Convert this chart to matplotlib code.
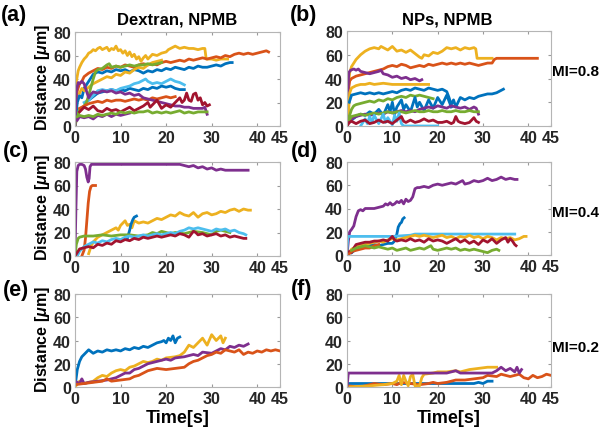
import matplotlib.pyplot as plt

plt.rcParams['font.family'] = ['Liberation Sans', 'DejaVu Sans']
plt.rcParams['font.weight'] = 'bold'
plt.rcParams['mathtext.fontset'] = 'custom'
plt.rcParams['mathtext.it'] = 'Liberation Sans:italic:bold'
plt.rcParams['mathtext.rm'] = 'Liberation Sans:bold'

# MATLAB default colour order
blue = '#0072BD'
orange = '#D95319'
yellow = '#EDB120'
purple = '#7E2F8E'
green = '#77AC30'
cyan = '#4DBEEE'
red = '#A2142F'

xticks = [0, 10, 20, 30, 40, 45]
yticks = [0, 20, 40, 60, 80]
titles = ['Dextran, NPMB', 'NPs, NPMB']
mi_labels = ['MI=0.8', 'MI=0.4', 'MI=0.2']
panel_labels = ['(a)', '(b)', '(c)', '(d)', '(e)', '(f)']

# each track: list of (time [s], distance [um])
# ---- (a) Dextran, MI=0.8 ----
a_yellow1 = [(0,0),(0.3,38),(0.7,47),(1,50),(1.5,54),(2,57),(2.5,59),(3,62),(3.5,63),(4,65),(4.5,64),(5,66),
             (5.5,67),(6,65),(6.5,66),(7,67),(7.5,64),(8,66),(8.5,65),(9,68),(9.5,64),(10,65),(10.5,62),(11,64),
             (11.5,60),(12,63),(12.5,59),(13,61),(13.5,57),(14,59),(14.5,55),(15,58),(15.5,60),(16,57),(17,61),
             (18,60),(19,62),(20,63),(20.5,65),(21,66),(22,68),(23,66),(24,67),(25,66),(26,66),(27,65),(28,66),
             (28.5,66),(28.8,57),(30,57),(31,56),(32,57),(33.5,57)]
a_yellow2 = [(1,28),(1.5,32),(2,30),(3,33),(4,36),(5,38),(6,40),(7,42),(8,41),(9,44),(10,43),(11,46),(12,45),
             (13,48),(14,50),(15,49),(16,52),(17,54),(18,55),(19,56)]
a_orange1 = [(0,0),(0.5,30),(1,36),(1.5,38),(2,42),(3,45),(4,47),(5,49),(6,48),(7,50),(8,49),(9,51),(10,50),
             (11,52),(12,51),(13,50),(14,52),(15,53),(16,52),(17,53),(18,52),(19,54),(20,55),(21,54),(22,55),
             (23,56),(24,55),(25,57),(26,56),(27,57),(28,58),(29,57),(30,58),(31,59),(32,58),(33,60),(34,59),
             (35,61),(36,62),(37,61),(38,62),(39,61),(40,62),(41,63),(42,64),(42.5,63)]
a_blue1 = [(0,0),(0.5,20),(1,26),(1.5,24),(2,32),(3,38),(4,44),(5,46),(6,45),(7,47),(8,46),(9,48),(10,47),
           (11,48),(12,46),(13,48),(14,47),(15,45),(16,47),(17,46),(18,48),(19,47),(20,49),(21,48),(22,50),
           (23,49),(24,48),(25,50),(26,49),(27,51),(28,50),(29,50),(30,51),(31,52),(32,51),(33,53),(34,54),(34.5,54)]
a_blue2 = [(3,22),(4,25),(5,28),(6,29),(7,30),(8,31),(9,30),(10,31),(11,30),(12,32),(13,31),(14,30),(15,32),
           (16,31),(17,33),(18,32),(19,34),(20,33),(21,34),(22,32),(23,31),(24,31)]
a_cyan = [(2,20),(3,22),(4,26),(5,30),(6,31),(7,30),(8,31),(9,30),(10,32),(11,33),(12,34),(13,36),(14,37),
          (15,39),(15.5,40),(16,38),(17,36),(18,37),(19,36),(20,38),(21,40),(22,38),(23,37),(24,35)]
a_green1 = [(0,0),(0.5,8),(1,14),(2,17),(2.5,20),(3,26),(3.5,33),(4,40),(4.5,46),(5,48),(6,49),(7,52),(7.5,53),
            (8,50),(9,51),(10,50),(11,51),(12,52),(13,51),(14,52),(15,52),(16,53),(17,52),(18,53),(19,54)]
a_green2 = [(0.5,8),(1,9),(2,8),(3,9),(4,8),(5,10),(6,9),(7,10),(8,11),(9,10),(10,12),(11,11),(12,12),(13,11),
            (14,12),(15,12),(16,13),(17,11),(18,12),(19,11),(20,12),(21,11),(22,12),(23,13),(24,11),(25,12),
            (26,11),(27,12),(28,12),(29,12)]
a_purple1 = [(0,0),(0.3,30),(0.7,37),(1,36),(1.5,38),(2,36),(2.5,30),(3,24),(3.5,27),(4,29),(5,28),(6,30),
             (7,29),(8,30),(9,28),(10,29),(11,27),(12,28),(13,26),(14,27),(15,24),(16,23),(17,22),(18,21),
             (19,20),(20,19),(21,18),(22,17),(23,17),(24,16),(25,16),(26,15),(27,15),(28,15),(28.5,16),(29,10)]
a_purple2 = [(0.5,5),(1,8),(2,7),(3,8),(4,6),(5,9),(6,8),(7,10),(8,8),(9,10),(10,9),(11,10),(12,11)]
a_orange2 = [(1,15),(2,17),(3,19),(4,20),(5,21),(6,20),(7,22),(8,21),(9,22),(10,22),(11,21),(12,22),(13,23),
             (14,22),(15,23),(16,22),(17,24),(18,23),(19,24),(20,25),(21,24),(22,25)]
a_red = [(1,12),(2,16),(3,14),(4,17),(5,13),(6,12),(7,15),(8,13),(9,14),(10,12),(11,14),(12,16),(13,13),
         (14,15),(15,17),(16,20),(16.5,16),(17,18),(18,22),(19,15),(20,18),(21,16),(22,20),(23,24),(23.5,20),
         (24,22),(24.5,28),(25,22),(25.5,21),(26,27),(26.5,28),(27,22),(27.5,24),(28,18),(28.5,20),(29,17),(29.5,18)]

# ---- (b) NPs, MI=0.8 ----
b_yellow1 = [(0,0),(0.3,35),(0.6,45),(1,50),(1.5,53),(2,56),(3,60),(4,63),(5,65),(6,66),(7,65),(7.5,67),
             (8,66),(9,64),(10,67),(10.5,65),(11,63),(12,64),(13,62),(14,64),(15,61),(16,58),(16.5,57),(17,60),
             (18,59),(19,62),(20,61),(21,63),(22,66),(23,65),(24,66),(25,64),(26,66),(27,65),(28,66),(28.4,65),
             (28.7,57),(30,57),(32,57)]
b_orange1 = [(0,0),(0.3,30),(0.6,38),(1,40),(2,42),(3,43),(4,44),(5,45),(6,46),(7,47),(8,48),(9,50),(10,51),
             (11,50),(12,52),(13,51),(14,49),(15,50),(16,51),(17,50),(18,52),(19,51),(20,52),(21,53),(22,52),
             (23,53),(24,52),(25,53),(26,52),(27,53),(28,52),(29,51),(30,52),(31,53),(32,53),(32.5,56),(33,57),
             (35,57),(38,57),(42,57)]
b_purple1 = [(0,0),(0.2,30),(0.4,45),(0.8,47),(1.5,48),(2,47),(2.5,48),(3,46),(4,45),(5,44),(6,45),(7,46),
             (7.5,47),(8,44),(9,43),(10,41),(11,42),(12,40),(13,41),(14,39),(15,40),(16,38),(16.5,39)]
b_yellow2 = [(0.3,10),(0.6,28),(1,32),(2,34),(3,35),(4,35),(5,36),(6,35),(8,36),(10,35),(12,35),(14,35),
             (16,35),(18,35)]
b_blue1 = [(0.5,20),(1,26),(2,27),(3,28),(4,27),(5,28),(6,27),(7,28),(8,27),(9,28),(10,29),(11,28),(12,30),
           (13,31),(14,30),(15,32),(16,31),(17,30),(18,32),(19,31),(20,30),(21,31),(22,29),(22.5,24),(23,18),
           (23.5,22),(24,16),(24.5,20),(25,24),(26,22),(27,24),(28,23),(29,25),(30,26),(31,27),(32,27),(33,28),
           (34,30),(34.5,31)]
b_blue2 = [(1,5),(2,8),(3,10),(4,9),(5,12),(6,10),(7,14),(8,9),(9,18),(9.5,12),(10,20),(10.5,10),(11,16),
           (12,22),(12.5,14),(13,18),(14,12),(15,24),(15.5,16),(16,20),(17,13),(18,22),(19,15),(20,24),(21,18),
           (22,26),(23,16)]
b_green1 = [(0,0),(0.5,8),(1,14),(1.5,17),(2,18),(3,19),(4,20),(5,21),(6,20),(7,22),(8,21),(9,23),(10,22),
            (11,24),(12,25),(13,24),(14,26),(15,25),(16,26),(17,25),(18,24),(19,23)]
b_green2 = [(0.5,5),(1,8),(2,9),(3,10),(4,9),(5,10),(6,11),(7,10),(8,11),(9,12),(10,11),(11,12),(12,12),
            (13,11),(14,12),(15,13),(16,12),(17,12),(18,13),(19,12),(20,12),(21,13),(22,12),(23,12),(24,13),
            (25,12),(26,12),(27,13),(28,12),(29,12)]
b_purple2 = [(0.5,3),(1,6),(2,8),(3,9),(4,10),(5,9),(6,10),(7,11),(8,10),(9,12),(10,11),(11,12),(12,13),
             (13,12),(14,13),(15,12),(16,14),(17,15),(18,16),(19,15),(20,17),(21,16),(22,15),(23,17),(24,16),
             (25,15),(26,16),(27,14),(28,16),(28.5,15),(29,10)]
b_red = [(0,0),(0.5,3),(1,4),(2,2),(3,4),(4,5),(5,2),(6,3),(7,5),(8,3),(9,4),(10,2),(11,5),(12,8),(12.5,4),
         (13,3),(14,5),(15,3),(16,4),(17,6),(18,4),(19,5),(20,3),(21,3),(22,4),(23,2),(23.5,3),(24,8),(24.5,4),
         (25,3),(26,2),(27,3),(28,7),(28.5,4),(29,3)]
b_cyan = [(3,0),(4,6),(4.5,2),(5,8),(5.5,3),(6,9),(7,2),(7.5,6),(8,10),(8.5,3),(9,7),(10,1),(10.5,9),(11,4),
          (11.5,11),(12,2),(12.5,0),(20,0)]

# ---- (c) Dextran, MI=0.4 ----
c_purple = [(0,0),(0.2,40),(0.4,72),(0.7,77),(1,78),(1.5,78),(2,77),(2.3,74),(2.6,67),(2.9,63),(3.1,66),
            (3.3,76),(3.6,78),(5,78),(10,78),(15,78),(20,78),(23,78),(24,77),(25,76),(26,77),(27,75),(28,76),
            (29,74),(30,75),(31,73),(32,74),(33,73),(35,73),(38,73)]
c_orange = [(1.5,0),(2,5),(2.3,15),(2.6,30),(2.9,45),(3.2,55),(3.5,59),(3.8,60),(4.5,60)]
c_yellow = [(3,2),(3.5,8),(4,12),(5,16),(6,18),(7,20),(8,22),(9,24),(9.5,22),(10,26),(11,30),(11.5,26),
            (12,27),(12.5,24),(13,30),(14,28),(15,29),(16,28),(17,30),(18,32),(19,31),(20,33),(21,35),(22,34),
            (23,37),(24,35),(25,34),(26,37),(27,33),(28,36),(29,37),(30,35),(31,36),(32,38),(33,37),(34,39),
            (35,40),(36,38),(37,40),(38,39),(38.5,39)]
c_blue = [(11.5,15),(12,22),(12.3,27),(12.7,31),(13,33),(13.5,34)]
c_green = [(0,0),(0.3,10),(0.7,15),(1,16),(2,17),(4,17),(6,18),(8,17),(10,18),(12,18),(14,17),(16,18),(17,20),
           (18,19),(19,21),(20,20),(21,19),(22,20),(24,19),(26,21),(28,20),(30,18),(31,21),(32,22),(33,21),(34,20)]
c_cyan = [(0.5,0),(1,4),(2,8),(3,10),(4,12),(5,11),(6,13),(7,12),(8,14),(9,15),(10,14),(11,16),(12,17),
          (13,16),(14,17),(15,18),(16,17),(17,18),(18,19),(19,18),(20,19),(21,20),(22,19),(23,21),(24,22),
          (25,24),(26,23),(27,24),(28,23),(29,22),(30,21),(31,23),(32,22),(33,23),(34,21),(35,22),(36,20),
          (37,19),(37.5,18)]
c_red = [(0,0),(0.5,3),(1,6),(2,7),(3,8),(4,7),(5,10),(6,9),(7,11),(8,10),(9,13),(10,12),(11,14),(12,13),
         (13,15),(14,14),(15,16),(16,15),(17,16),(18,17),(19,16),(20,17),(21,18),(22,17),(23,19),(24,18),
         (25,16),(26,21),(26.5,20),(27,18),(28,19),(29,17),(30,18),(31,19),(32,17),(33,18),(34,16),(35,17),
         (36,16),(37,15),(37.5,15)]

# ---- (d) NPs, MI=0.4 ----
d_purple = [(0,0),(0.3,12),(0.6,20),(1,22),(1.5,25),(2,33),(2.5,38),(3,39),(3.5,38),(4,40),(5,40),(6,40),
            (7,41),(8,42),(8.5,44),(9,43),(9.5,45),(10,43),(10.5,44),(11,46),(11.5,45),(12,47),(12.5,44),(13,48),
            (13.5,46),(14,47),(14.5,50),(15,57),(15.5,58),(16,58),(17,59),(18,58),(19,60),(20,61),(21,60),
            (22,61),(23,62),(24,61),(25,63),(25.5,64),(26,61),(27,62),(28,64),(29,63),(30,64),(31,66),(32,64),
            (33,65),(34,67),(35,65),(36,66),(37,65),(37.5,65)]
d_blue = [(1,2),(2,5),(3,7),(4,8),(5,8),(6,9),(7,8),(8,9),(9,10),(10,10),(10.5,12),(11,18),(11.3,24),
          (11.7,27),(12,28),(12.3,31),(12.6,32)]
d_cyan = [(0,5),(0.2,16),(1,16),(5,16),(10,16),(14,17),(15,18),(20,18),(25,18),(30,18),(37,18)]
d_yellow = [(0.5,2),(1,5),(2,7),(3,8),(4,9),(5,10),(6,11),(7,12),(8,11),(9,13),(10,14),(11,13),(12,14),
            (13,15),(14,16),(15,17),(16,16),(17,17),(18,16),(19,15),(20,16),(21,17),(22,15),(23,16),(24,14),
            (25,16),(26,15),(27,17),(28,15),(29,16),(30,14),(31,16),(32,15),(33,13),(34,15),(35,14),(36,15),
            (37,13),(38,14),(39,16),(39.5,16)]
d_red = [(0,0),(0.5,3),(1,2),(1.5,6),(2,9),(3,10),(4,11),(5,11),(6,12),(7,12),(8,13),(9,12),(9.5,14),(10,16),
         (10.5,13),(11,12),(12,13),(13,12),(14,14),(15,12),(16,13),(17,11),(18,14),(19,12),(20,13),(21,12),
         (22,10),(23,12),(24,14),(25,11),(26,13),(27,10),(28,12),(29,9),(30,13),(31,11),(32,14),(33,10),
         (34,13),(35,15),(35.5,11),(36,14),(36.5,12),(37,9),(37.3,8)]
d_orange = [(0,0),(0.5,1),(1,3),(2,4),(3,5),(4,6),(5,6),(6,8),(7,9)]
d_green = [(1,4),(2,6),(3,7),(4,8),(5,7),(6,6),(7,7),(8,6),(9,5),(10,6),(11,4),(12,5),(13,6),(14,4),(15,5),
           (16,6),(17,5),(18,7),(18.5,8),(19,5),(20,4),(21,5),(22,6),(23,5),(24,6),(25,4),(26,5),(27,4),(28,5),
           (29,4),(30,3),(31,2),(32,4),(33,5),(33.5,4)]

# ---- (e) Dextran, MI=0.2 ----
e_blue = [(0,0),(0.5,15),(1,22),(1.5,26),(2,28),(2.5,30),(3,32),(4,29),(5,31),(6,30),(7,32),(8,31),(9,32),
          (10,31),(11,33),(12,32),(13,34),(14,33),(15,35),(16,34),(17,36),(18,38),(19,39),(19.5,40),(20,38),
          (20.5,42),(21,40),(21.5,44),(22,38),(22.5,42),(23,43)]
e_yellow = [(0,0),(1,5),(2,3),(3,4),(4,5),(5,8),(6,10),(7,9),(8,12),(9,14),(10,15),(11,14),(12,17),(13,18),
            (14,20),(15,22),(16,21),(17,22),(18,24),(19,23),(20,25),(22,26),(23,27),(24,30),(25,36),(26,34),
            (27,38),(28,42),(29,36),(30,45),(31,40),(32,44),(32.5,38),(33,42)]
e_purple = [(0,5),(1,3),(1.5,7),(2,3),(3,4),(5,5),(7,6),(9,8),(10,10),(11,12),(12,12),(13,15),(14,16),(15,18),
            (16,20),(17,21),(18,22),(20,24),(21,23),(22,25),(24,26),(26,28),(27,27),(28,30),(30,29),(31,31),
            (32,33),(33,32),(34,35),(35,34),(36,36),(37,35),(38,37)]
e_orange = [(0,2),(2,3),(4,4),(6,5),(7,7),(8,5),(10,6),(12,7),(13,9),(14,10),(15,12),(16,14),(17,15),(18,16),
            (20,15),(22,16),(24,17),(25,20),(26,22),(27,23),(28,25),(29,27),(30,28),(31,30),(32,29),(33,32),
            (34,31),(35,30),(36,32),(37,28),(38,30),(39,29),(40,31),(41,30),(42,32),(43,31),(44,32),(45,31)]

# ---- (f) NPs, MI=0.2 ----
f_purple = [(0,0),(0.3,12),(5,12),(10,12),(15,12),(20,12),(22,12),(23,13),(24,14),(25,12),(28,12),(32,12),
            (33,14),(34,17),(35,14),(36,16),(37,13),(37.5,17),(38,12),(38.5,15)]
f_blue = [(0,0),(0.2,3),(5,3),(10,3),(15,3),(20,3),(25,3),(28,3),(29,4),(30,3),(31,5),(32,5)]
f_yellow = [(0,0),(5,1),(8,2),(10,3),(11,5),(11.5,10),(12,2),(12.5,10),(13,5),(13.5,1),(14,9),(14.5,11),(15,1),
            (16,1),(16.5,8),(17,11),(19,12),(20,13),(22,13),(24,14),(25,13),(27,15),(29,16),(31,17),(33,17)]
f_orange = [(0,1),(3,0),(5,2),(6,3),(8,2),(10,3),(11,2),(12,4),(14,3),(16,2),(18,3),(19,4),(20,3),(22,4),
            (23,5),(24,6),(26,6),(28,7),(30,8),(31,10),(33,9),(34,11),(35,10),(36,9),(37,10),(38,11),(39,8),
            (40,7),(41,10),(42,8),(43,9),(44,11),(45,10)]

panel_tracks = [
    [(a_yellow1, yellow), (a_orange1, orange), (a_blue1, blue), (a_yellow2, yellow), (a_blue2, blue),
     (a_cyan, cyan), (a_green1, green), (a_orange2, orange), (a_purple1, purple), (a_red, red),
     (a_purple2, purple), (a_green2, green)],
    [(b_yellow1, yellow), (b_orange1, orange), (b_purple1, purple), (b_yellow2, yellow), (b_blue1, blue),
     (b_green1, green), (b_blue2, blue), (b_purple2, purple), (b_green2, green), (b_cyan, cyan), (b_red, red)],
    [(c_purple, purple), (c_orange, orange), (c_yellow, yellow), (c_blue, blue), (c_green, green),
     (c_cyan, cyan), (c_red, red)],
    [(d_purple, purple), (d_blue, blue), (d_cyan, cyan), (d_yellow, yellow), (d_red, red),
     (d_orange, orange), (d_green, green)],
    [(e_blue, blue), (e_yellow, yellow), (e_purple, purple), (e_orange, orange)],
    [(f_blue, blue), (f_orange, orange), (f_yellow, yellow), (f_purple, purple)],
]

W, H = 606, 431
fig = plt.figure(figsize=(W / 100, H / 100), dpi=100)

# axes boxes in pixels: left, top, right, bottom
boxes = [(75, 33, 280, 127), (347, 32, 551, 127),
         (75, 163, 280, 257), (347, 163, 551, 256),
         (75, 295, 280, 388), (347, 295, 551, 388)]

axes = []
for i, (l, t, r, b) in enumerate(boxes):
    ax = fig.add_axes([l / W, 1 - b / H, (r - l) / W, (b - t) / H])
    for track, col in panel_tracks[i]:
        ts = [p[0] for p in track]
        ds = [p[1] for p in track]
        ax.plot(ts, ds, color=col, lw=2.0)
    ax.set_xlim(0, 45)
    ax.set_ylim(0, 80)
    ax.set_xticks(xticks)
    ax.set_yticks(yticks)
    ax.tick_params(direction='in', length=2.5, top=True, right=True, color='#9a9a9a',
                   labelsize=11.5, labelcolor='#262626', pad=3)
    for lab in ax.get_xticklabels() + ax.get_yticklabels():
        lab.set_fontweight('bold')
    for sp in ax.spines.values():
        sp.set_color('#b5b5b5')
        sp.set_linewidth(0.8)
    axes.append(ax)

# titles
fig.text(177 / W, 1 - 20 / H, titles[0], ha='center', va='center', fontsize=12, fontweight='bold')
fig.text(447 / W, 1 - 20 / H, titles[1], ha='center', va='center', fontsize=12, fontweight='bold')

# panel labels
lab_pos = [(1, 15), (290, 15), (3, 151), (291, 151), (3, 291), (291, 289)]
for txt, (x, y) in zip(panel_labels, lab_pos):
    fig.text(x / W, 1 - y / H, txt, ha='left', va='center', fontsize=15.5, fontweight='bold')

# y labels on left column
for i in (0, 2, 4):
    l, t, r, b = boxes[i]
    fig.text(43 / W, 1 - ((t + b) / 2 - 2) / H, r'Distance [$\mu$m]', rotation=90, ha='center', va='center',
             fontsize=11.5, fontweight='bold')

# x labels on bottom row
for i in (4, 5):
    l, t, r, b = boxes[i]
    fig.text((l + r) / 2 / W, 1 - 419 / H, 'Time[s]', ha='center', va='center', fontsize=13, fontweight='bold')

# MI labels
for txt, y in zip(mi_labels, [72, 213, 348]):
    fig.text(552 / W, 1 - y / H, txt, ha='left', va='center', fontsize=11, fontweight='bold')

fig.savefig('out.png', dpi=100)
